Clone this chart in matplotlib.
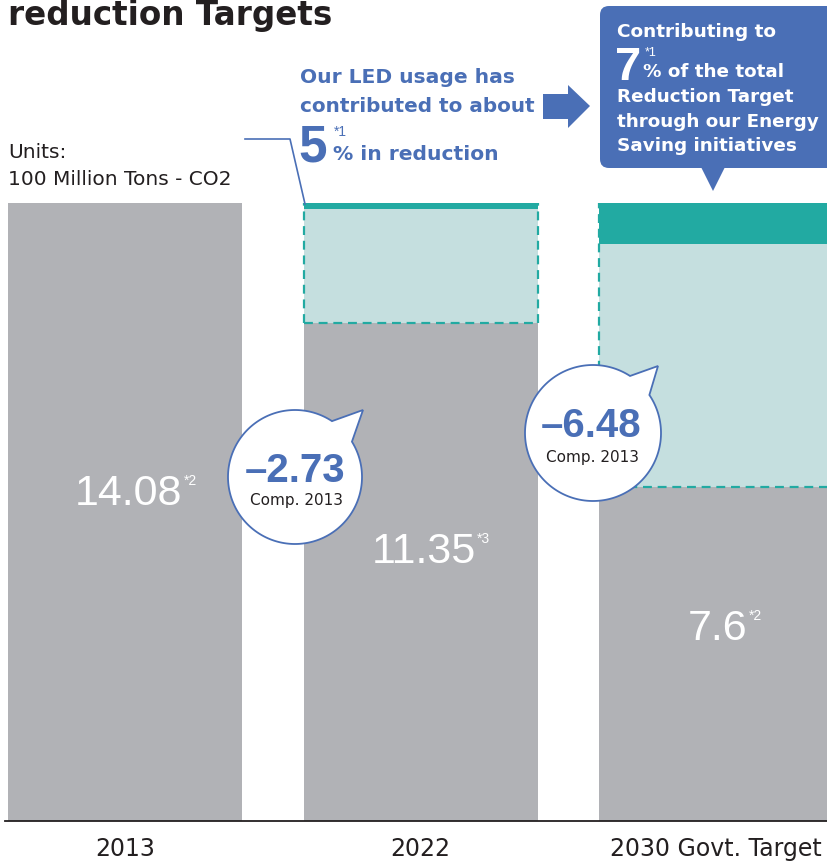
import matplotlib
matplotlib.use("Agg")
import matplotlib.pyplot as plt
import numpy as np
from matplotlib.patches import Polygon, FancyBboxPatch

# ---------------- data ----------------
categories = ["2013", "2022", "2030 Govt. Target"]
emissions = [14.08, 11.35, 7.6]            # 100 million tons CO2
notes = ["*2", "*3", "*2"]
reductions = [-2.73, -6.48]                # vs 2013, for 2022 and 2030
company_contrib = [0.0, 0.14, 0.93]        # dark teal top segment (LED / energy-saving)
led_pct = "5"
target_pct = "7"

# ---------------- style ----------------
GRAY = "#b1b2b6"
LTEAL = "#c5dfdf"
DTEAL = "#22aaa2"
BLUE = "#4a6fb6"
BLACK = "#231f20"
LIB = ["Liberation Sans", "DejaVu Sans"]
DJ = ["DejaVu Sans"]

W, H = 827, 862
fig = plt.figure(figsize=(W / 100, H / 100), dpi=100)

base_px, top_px = 822, 204
ppu = (base_px - top_px) / emissions[0]
pitch, c0 = 295.5, 125
ax = fig.add_axes([0, (H - base_px) / H, 1, base_px / H])
ax.set_xlim(-c0 / pitch, (W - c0) / pitch)
ax.set_ylim(0, base_px / ppu)
for s in ax.spines.values():
    s.set_visible(False)
ax.set_yticks([])

x = np.arange(len(categories))
bw = 234 / pitch
ref = emissions[0]
ax.bar(x, emissions, width=bw, color=GRAY, zorder=2)
for i in range(1, len(categories)):
    top_gap = ref - emissions[i]
    ax.bar(x[i], top_gap - company_contrib[i], bottom=emissions[i], width=bw,
           color=LTEAL, zorder=2)
    ax.bar(x[i], company_contrib[i], bottom=ref - company_contrib[i], width=bw,
           color=DTEAL, zorder=2)
    l, r = x[i] - bw / 2, x[i] + bw / 2
    dash = dict(color=DTEAL, lw=1.6, ls=(0, (4, 2.6)), zorder=3)
    ax.plot([l, l], [emissions[i], ref], **dash)
    ax.plot([r, r], [emissions[i], ref], **dash)
    ax.plot([l, r], [emissions[i], emissions[i]], **dash)

x0, x1 = ax.get_xlim()
ax.plot([x0 + (5 / W) * (x1 - x0), x1], [0, 0], color=BLACK, lw=1.3,
        clip_on=False, zorder=4)
ax.set_xticks(x)
ax.set_xticklabels(categories, fontsize=17, family=DJ, color=BLACK)
ax.tick_params(axis="x", length=0, pad=10.5)

# ---------------- overlay (pixel coordinates) ----------------
ov = fig.add_axes([0, 0, 1, 1], zorder=5)
ov.set_xlim(0, W)
ov.set_ylim(H, 0)
ov.axis("off")
ov.patch.set_alpha(0)

ov.text(8, 25, "reduction Targets", fontsize=23.5, weight="bold", color=BLACK,
        family=DJ, va="baseline", ha="left")
ov.text(8, 158, "Units:", fontsize=14.5, color=BLACK, family=DJ, va="baseline")
ov.text(8, 185, "100 Million Tons - CO2", fontsize=14.5, color=BLACK, family=DJ,
        va="baseline")

# value labels with superscript notes placed right after the number
fig.canvas.draw()
renderer = fig.canvas.get_renderer()
val_pos = [(75, 505), (372, 563), (688, 640)]
for v, n, (px, py) in zip(emissions, notes, val_pos):
    t = ov.text(px, py, f"{v:g}", fontsize=31, color="white", family=LIB,
                va="baseline", ha="left")
    bb = t.get_window_extent(renderer)
    ov.text(bb.x1 + 1, py - 20, n, fontsize=10, color="white", family=LIB,
            va="baseline", ha="left")

# LED annotation
ov.plot([245, 290, 305], [140, 140, 205], color=BLUE, lw=1.2)
ov.text(300, 83, "Our LED usage has", fontsize=14.6, weight="bold", color=BLUE,
        family=DJ, va="baseline")
ov.text(300, 112, "contributed to about", fontsize=14.4, weight="bold", color=BLUE,
        family=DJ, va="baseline")
ov.text(298, 162, led_pct, fontsize=37, weight="bold", color=BLUE, family=LIB,
        va="baseline")
ov.text(334, 136, "*1", fontsize=10, color=BLUE, family=LIB, va="baseline")
ov.text(333, 160, "% in reduction", fontsize=14.6, weight="bold", color=BLUE,
        family=DJ, va="baseline")

# block arrow
ov.add_patch(Polygon([(543, 95), (568, 95), (568, 86), (590, 107), (568, 129),
                      (568, 120), (543, 120)], closed=True, color=BLUE, lw=0))

# callout box
ov.add_patch(FancyBboxPatch((600, 7), 240, 162, boxstyle="round,pad=0,rounding_size=9",
                            color=BLUE, lw=0))
ov.add_patch(Polygon([(701, 168), (725, 168), (713, 192)], closed=True, color=BLUE, lw=0))
ov.text(617, 37, "Contributing to", fontsize=13.3, weight="bold", color="white",
        family=DJ, va="baseline")
ov.text(615, 80, target_pct, fontsize=34, weight="bold", color="white", family=LIB,
        va="baseline")
ov.text(645, 56, "*1", fontsize=9, color="white", family=LIB, va="baseline")
for txt, yb in [("% of the total", 77), ("Reduction Target", 102),
                ("through our Energy", 127), ("Saving initiatives", 151)]:
    ov.text(643 if txt.startswith("%") else 617, yb, txt, fontsize=13.2,
            weight="bold", color="white", family=DJ, va="baseline")


def bubble(cx, cy, r, a1, a2, tip):
    th = np.radians(np.linspace(a1, a2 + 360, 240))
    pts = [(cx + r * np.cos(t), cy - r * np.sin(t)) for t in th]
    pts.append(tip)
    ov.add_patch(Polygon(pts, closed=True, facecolor="white", edgecolor=BLUE, lw=1.3))


bubble(295, 478, 67, 56.5, 31.8, (363, 411))
bubble(593, 434, 68, 57, 34, (658, 367))

for d, (cx, yb, yc) in zip(reductions, [(295, 482, 505), (591, 437, 462)]):
    ov.text(cx, yb, f"{d:.2f}".replace("-", "\u2013"), fontsize=29, weight="bold",
            color=BLUE, family=LIB, va="baseline", ha="center")
    ov.text(cx + 2, yc, "Comp. 2013", fontsize=11, color=BLACK, family=DJ,
            va="baseline", ha="center")

fig.savefig("out.png", dpi=100)
